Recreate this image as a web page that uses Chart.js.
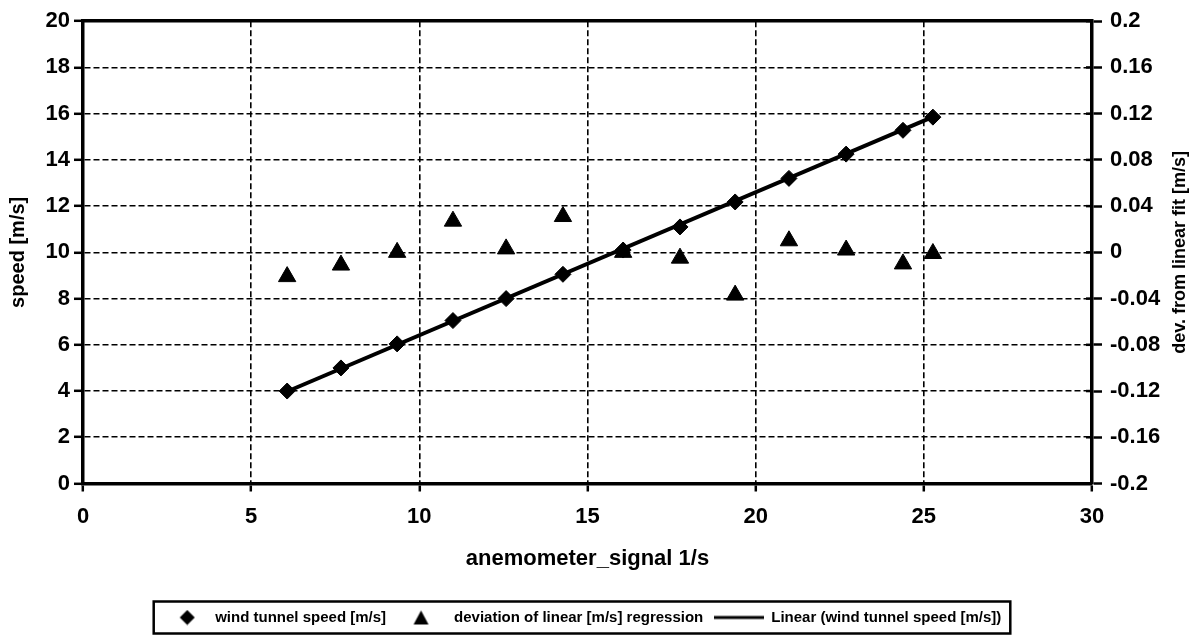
<!DOCTYPE html>
<html>
<head>
<meta charset="utf-8">
<script src="https://cdn.jsdelivr.net/npm/chart.js@4/dist/chart.umd.min.js"></script>
<style>
html,body{margin:0;padding:0;background:#fff;}
#wrap{width:1197px;height:635px;position:relative;}
</style>
</head>
<body>
<div id="wrap"><canvas id="c"></canvas></div>
<script>
// anemometer signal [1/s]
const signal = [6.07, 7.67, 9.34, 11.00, 12.58, 14.27, 16.06, 17.75, 19.39, 20.99, 22.69, 24.38, 25.27];
// wind tunnel speed [m/s]
const speed = [4.0, 5.0, 6.04, 7.05, 8.0, 9.05, 10.1, 11.1, 12.18, 13.2, 14.25, 15.28, 15.85];
// deviation of linear regression [m/s]
const deviation = [-0.021, -0.011, 0.000, 0.027, 0.003, 0.031, 0.000, -0.005, -0.037, 0.010, 0.002, -0.010, -0.001];
// linear trendline endpoints
const trendX = [6.07, 25.27];
const trendY = [3.98, 15.86];

const xTicks = [0, 5, 10, 15, 20, 25, 30];
const yTicks = [0, 2, 4, 6, 8, 10, 12, 14, 16, 18, 20];
const y2Ticks = [-0.2, -0.16, -0.12, -0.08, -0.04, 0, 0.04, 0.08, 0.12, 0.16, 0.2];

const labels = ['wind tunnel speed [m/s]', 'deviation of linear [m/s] regression', 'Linear (wind tunnel speed [m/s])'];
const xTitle = 'anemometer_signal 1/s';
const yTitle = 'speed [m/s]';
const y2Title = 'dev. from linear fit [m/s]';

const FONT = "'Liberation Sans', Arial, sans-serif";
const SYMW = 50;

// legend symbol images
function legendImg(kind) {
  const c = document.createElement('canvas');
  c.width = SYMW; c.height = 16;
  const g = c.getContext('2d');
  g.fillStyle = '#000'; g.strokeStyle = '#000';
  if (kind === 0) {
    const cx = 29.5, cy = 8, r = 7.5;
    g.beginPath(); g.moveTo(cx, cy - r); g.lineTo(cx + r, cy); g.lineTo(cx, cy + r); g.lineTo(cx - r, cy); g.closePath(); g.fill();
  } else if (kind === 1) {
    const cx = 24.5;
    g.beginPath(); g.moveTo(cx, 1); g.lineTo(cx + 7.5, 15); g.lineTo(cx - 7.5, 15); g.closePath(); g.fill();
  } else {
    g.lineWidth = 3;
    g.beginPath(); g.moveTo(0, 8); g.lineTo(50, 8); g.stroke();
  }
  return c;
}
const legendImgs = [legendImg(0), legendImg(1), legendImg(2)];

const tweaks = {
  id: 'tweaks',
  afterLayout(chart) {
    const lg = chart.legend;
    if (lg) { lg.left -= 19; lg.right -= 19; }
  },
  afterDraw(chart) {
    const ctx = chart.ctx;
    const lg = chart.legend;
    if (lg && lg.legendHitBoxes && lg.legendHitBoxes.length) {
      const hb = lg.legendHitBoxes;
      const first = hb[0], last = hb[hb.length - 1];
      const cy = first.top + first.height / 2;
      ctx.save();
      ctx.strokeStyle = '#000';
      ctx.lineWidth = 2.5;
      ctx.strokeRect(first.left - 4, cy - 16, (last.left + last.width + 9) - (first.left - 4), 32);
      ctx.restore();
    }
    const y2 = chart.scales.y2;
    // inward half of the right-axis tick marks
    ctx.save();
    ctx.strokeStyle = '#000';
    ctx.lineWidth = 2.5;
    y2.ticks.forEach(t => {
      const py = y2.getPixelForValue(t.value);
      ctx.beginPath(); ctx.moveTo(y2.left - 6, py); ctx.lineTo(y2.left, py); ctx.stroke();
    });
    ctx.restore();
    // right-hand axis title, reading bottom to top
    ctx.save();
    ctx.fillStyle = '#000';
    ctx.font = 'bold 18px ' + FONT;
    ctx.textAlign = 'center';
    ctx.textBaseline = 'middle';
    ctx.translate(y2.right - 17, (y2.top + y2.bottom) / 2);
    ctx.rotate(-Math.PI / 2);
    ctx.fillText(y2Title, 0, 0);
    ctx.restore();
  }
};

new Chart(document.getElementById('c'), {
  type: 'scatter',
  data: {
    datasets: [
      {
        label: labels[0],
        data: signal.map((x, i) => ({x: x, y: speed[i]})),
        yAxisID: 'y',
        pointStyle: 'rectRot',
        pointRadius: 8,
        pointHoverRadius: 8,
        backgroundColor: '#000',
        borderColor: '#000',
        borderWidth: 1,
        order: 1
      },
      {
        label: labels[1],
        data: signal.map((x, i) => ({x: x, y: deviation[i]})),
        yAxisID: 'y2',
        pointStyle: 'triangle',
        pointRadius: 10,
        pointHoverRadius: 10,
        backgroundColor: '#000',
        borderColor: '#000',
        borderWidth: 1,
        order: 2
      },
      {
        label: labels[2],
        type: 'line',
        data: trendX.map((x, i) => ({x: x, y: trendY[i]})),
        yAxisID: 'y',
        showLine: true,
        pointRadius: 0,
        borderColor: '#000',
        backgroundColor: '#000',
        borderWidth: 4,
        fill: false,
        order: 3
      }
    ]
  },
  options: {
    responsive: true,
    maintainAspectRatio: false,
    animation: false,
    layout: { padding: { top: 19, bottom: 0, left: 0, right: 0 } },
    plugins: {
      legend: {
        position: 'bottom',
        labels: {
          usePointStyle: true,
          pointStyleWidth: SYMW,
          boxHeight: 15,
          padding: 10.5,
          color: '#000',
          font: { family: FONT, size: 15, weight: 'bold' },
          generateLabels: chart => {
            const items = Chart.defaults.plugins.legend.labels.generateLabels(chart);
            items.forEach((it, i) => { it.pointStyle = legendImgs[i]; });
            return items;
          }
        }
      },
      tooltip: { enabled: false }
    },
    scales: {
      x: {
        type: 'linear',
        position: 'bottom',
        min: 0, max: 30,
        afterBuildTicks: s => { s.ticks = xTicks.map(v => ({value: v})); },
        afterFit: s => { s.height = 116; },
        ticks: { color: '#000', font: { family: FONT, size: 22, weight: 'bold' }, padding: 12 },
        grid: { color: '#000', lineWidth: 1.6, tickLength: 8, tickColor: '#000', tickWidth: 2.5 },
        border: { color: '#000', width: 3.5, dash: [6, 3] },
        title: { display: true, text: xTitle, color: '#000', font: { family: FONT, size: 22, weight: 'bold' }, padding: { top: 0, bottom: 27 } }
      },
      xTop: {
        type: 'linear',
        position: 'top',
        min: 0, max: 30,
        ticks: { display: false },
        grid: { display: false, drawTicks: false },
        border: { color: '#000', width: 3.5 },
        afterFit: s => { s.height = 0; }
      },
      y: {
        type: 'linear',
        position: 'left',
        min: 0, max: 20,
        afterBuildTicks: s => { s.ticks = yTicks.map(v => ({value: v})); },
        afterFit: s => { s.width = 83; },
        ticks: { color: '#000', font: { family: FONT, size: 22, weight: 'bold' }, padding: 4 },
        grid: { color: '#000', lineWidth: 1.6, tickLength: 9, tickColor: '#000', tickWidth: 2.5 },
        border: { color: '#000', width: 3.5, dash: [6, 3] },
        title: { display: true, text: yTitle, color: '#000', font: { family: FONT, size: 20, weight: 'bold' }, padding: { top: 6, bottom: 0 } }
      },
      y2: {
        type: 'linear',
        position: 'right',
        min: -0.2, max: 0.2,
        afterBuildTicks: s => { s.ticks = y2Ticks.map(v => ({value: v})); },
        afterFit: s => { s.width = 105; },
        ticks: {
          color: '#000', font: { family: FONT, size: 22, weight: 'bold' }, padding: 8,
          callback: v => String(Number(v.toFixed(2)))
        },
        grid: { drawOnChartArea: false, color: '#000', tickLength: 10, tickColor: '#000', tickWidth: 2.5 },
        border: { color: '#000', width: 3.5 },
        title: { display: false }
      }
    }
  },
  plugins: [tweaks]
});
</script>
</body>
</html>
